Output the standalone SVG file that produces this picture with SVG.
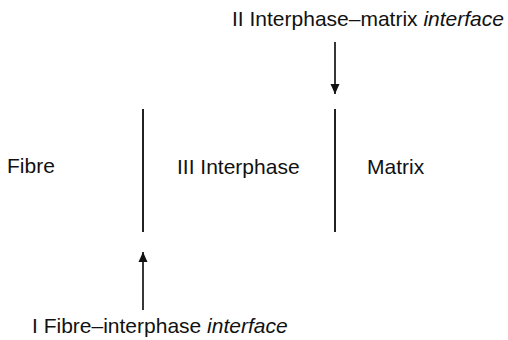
<svg xmlns="http://www.w3.org/2000/svg" width="508" height="340" viewBox="0 0 508 340">
<defs>
<marker id="ah" viewBox="0 0 10 12" refX="10" refY="6" markerWidth="10" markerHeight="12" markerUnits="userSpaceOnUse" orient="auto">
<path d="M0,1.5 L10,6 L0,10.5 Z" fill="#111"/>
</marker>
<style>
text{font-family:"Liberation Sans",Arial,sans-serif;font-size:21px;fill:#111}
.ln{stroke:#222;stroke-width:2;fill:none}
.ar{stroke:#222;stroke-width:1.8;fill:none;marker-end:url(#ah)}
</style>
</defs>
<rect width="508" height="340" fill="#fff"/>
<g id="fibre"><text x="7" y="173">Fibre</text></g>
<g id="interphase"><text x="177" y="174">III Interphase</text></g>
<g id="matrix"><text x="367" y="174">Matrix</text></g>
<g id="label-II"><text x="232" y="26">II Interphase–matrix <tspan font-style="italic">interface</tspan></text></g>
<g id="label-I"><text x="32" y="333">I Fibre–interphase <tspan font-style="italic">interface</tspan></text></g>
<g id="boundaries">
<line class="ln" x1="143" y1="109" x2="143" y2="232"/>
<line class="ln" x1="335" y1="109" x2="335" y2="232"/>
</g>
<g id="connectors">
<line class="ar" x1="335" y1="42" x2="335" y2="94"/>
<line class="ar" x1="143" y1="310" x2="143" y2="252"/>
</g>
</svg>
